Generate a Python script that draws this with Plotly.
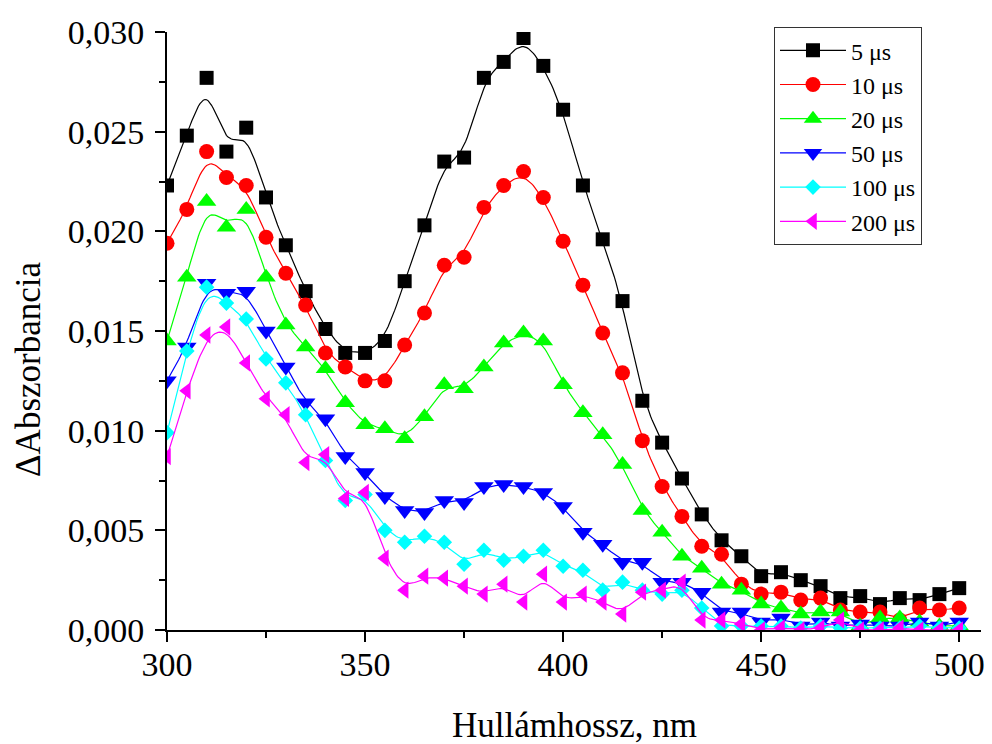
import numpy as np
import plotly.graph_objects as go

# Transient absorption spectra at different delay times
wavelength = list(range(300, 505, 5))

abs_5us = [0.0223, 0.0248, 0.0277, 0.0240, 0.0252, 0.0217, 0.0193, 0.0170, 0.0151, 0.0139,
           0.0139, 0.0145, 0.0175, 0.0203, 0.0235, 0.0237, 0.0277, 0.0285, 0.0297, 0.0283,
           0.0261, 0.0223, 0.0196, 0.0165, 0.0115, 0.0094, 0.0076, 0.0058, 0.0045, 0.0037,
           0.0027, 0.0029, 0.0025, 0.0022, 0.0016, 0.0017, 0.0013, 0.0016, 0.0015, 0.0018,
           0.0021]
abs_10us = [0.0194, 0.0211, 0.0240, 0.0227, 0.0223, 0.0197, 0.0179, 0.0163, 0.0139, 0.0132,
            0.0125, 0.0125, 0.0143, 0.0159, 0.0183, 0.0187, 0.0212, 0.0223, 0.0230, 0.0217,
            0.0195, 0.0173, 0.0149, 0.0129, 0.0095, 0.0072, 0.0057, 0.0042, 0.0038, 0.0023,
            0.0018, 0.0019, 0.0015, 0.0016, 0.0010, 0.0009, 0.0009, 0.0005, 0.0011, 0.0010,
            0.0011]
abs_20us = [0.0145, 0.0177, 0.0215, 0.0202, 0.0211, 0.0177, 0.0153, 0.0142, 0.0131, 0.0114,
            0.0103, 0.0101, 0.0096, 0.0107, 0.0123, 0.0121, 0.0132, 0.0144, 0.0149, 0.0145,
            0.0123, 0.0109, 0.0098, 0.0083, 0.0060, 0.0049, 0.0037, 0.0031, 0.0023, 0.0020,
            0.0013, 0.0011, 0.0008, 0.0009, 0.0009, 0.0002, 0.0006, 0.0006, 0.0004, 0.0002,
            0.0002]
abs_50us = [0.0125, 0.0142, 0.0174, 0.0169, 0.0170, 0.0150, 0.0132, 0.0114, 0.0106, 0.0087,
            0.0079, 0.0067, 0.0060, 0.0059, 0.0065, 0.0064, 0.0072, 0.0073, 0.0072, 0.0069,
            0.0062, 0.0049, 0.0043, 0.0034, 0.0034, 0.0024, 0.0024, 0.0019, 0.0009, 0.0009,
            0.0004, 0.0006, 0.0002, 0.0004, 0.0002, 0.0003, 0.0002, 0.0002, 0.0004, 0.0002,
            0.0004]
abs_100us = [0.0099, 0.0140, 0.0172, 0.0164, 0.0156, 0.0136, 0.0124, 0.0108, 0.0085, 0.0065,
             0.0068, 0.0050, 0.0044, 0.0047, 0.0044, 0.0033, 0.0040, 0.0035, 0.0037, 0.0040,
             0.0032, 0.0030, 0.0020, 0.0024, 0.0020, 0.0018, 0.0020, 0.0011, 0.0002, 0.0002,
             0.0002, 0.0002, 0.0001, 0.0002, 0.0001, 0.0001, 0.0001, 0.0001, 0.0002, 0.0001,
             0.0001]
abs_200us = [0.0087, 0.0120, 0.0148, 0.0152, 0.0134, 0.0116, 0.0108, 0.0084, 0.0088, 0.0066,
             0.0069, 0.0036, 0.0020, 0.0027, 0.0026, 0.0022, 0.0018, 0.0023, 0.0014, 0.0028,
             0.0014, 0.0018, 0.0014, 0.0008, 0.0019, 0.0020, 0.0024, 0.0005, 0.0005, 0.0003,
             0.0000, 0.0001, 0.0000, 0.0001, 0.0005, 0.0000, 0.0000, 0.0001, 0.0000, 0.0000,
             0.0000]

series_names = ["5 μs", "10 μs", "20 μs", "50 μs", "100 μs", "200 μs"]
series_values = [abs_5us, abs_10us, abs_20us, abs_50us, abs_100us, abs_200us]
colors = ["#000000", "#FF0000", "#00FF00", "#0000FF", "#00FFFF", "#FF00FF"]
symbols = ["square", "circle", "triangle-up", "triangle-down", "diamond", "triangle-left"]
sizes = [14, 15, 17, 17, 12, 15]


def bspline(xs, ys, steps=12):
    """Cubic B-spline through the data as control points (end points kept)."""
    P = np.column_stack([xs, ys]).astype(float)
    P = np.vstack([2 * P[0] - P[1], P, 2 * P[-1] - P[-2]])
    out = []
    t = np.linspace(0, 1, steps, endpoint=False)
    b0 = (1 - t) ** 3 / 6
    b1 = (3 * t ** 3 - 6 * t ** 2 + 4) / 6
    b2 = (-3 * t ** 3 + 3 * t ** 2 + 3 * t + 1) / 6
    b3 = t ** 3 / 6
    for i in range(1, len(P) - 2):
        seg = (np.outer(b0, P[i - 1]) + np.outer(b1, P[i]) +
               np.outer(b2, P[i + 1]) + np.outer(b3, P[i + 2]))
        out.append(seg)
    out.append(P[-2][None, :])
    c = np.vstack(out)
    return c[:, 0], c[:, 1]


fig = go.Figure()
for name, vals, col, sym, sz in zip(series_names, series_values, colors, symbols, sizes):
    cx, cy = bspline(wavelength, vals)
    fig.add_trace(go.Scatter(x=cx, y=cy, mode="lines", line=dict(color=col, width=1.2),
                             showlegend=False, hoverinfo="skip"))
    fig.add_trace(go.Scatter(x=wavelength, y=vals, mode="markers", name=name,
                             marker=dict(symbol=sym, size=sz, color=col, line=dict(width=0)),
                             showlegend=False))
    # legend entry: line with symbol
    fig.add_trace(go.Scatter(x=[None], y=[None], mode="lines+markers", name=name,
                             line=dict(color=col, width=1.2),
                             marker=dict(symbol=sym, size=sz, color=col, line=dict(width=0))))

axis_font = dict(family="Liberation Serif", size=34, color="black")

fig.update_layout(
    width=992, height=744,
    margin=dict(l=167, r=7, t=32, b=114),
    paper_bgcolor="white", plot_bgcolor="white",
    separators=", ",
    font=dict(family="Liberation Serif", color="black"),
    showlegend=True,
    legend=dict(
        x=0.7457, y=1.008, xanchor="left", yanchor="top",
        bgcolor="white", bordercolor="#333333", borderwidth=1,
        font=dict(family="Liberation Serif", size=24, color="black"),
        itemwidth=66, tracegroupgap=0,
    ),
    xaxis=dict(
        range=[300, 505.5], tickmode="linear", tick0=300, dtick=50,
        showline=True, linecolor="black", linewidth=2,
        ticks="outside", ticklen=10, tickwidth=2, tickcolor="black",
        minor=dict(ticks="outside", ticklen=6, tickwidth=2, tickcolor="black", dtick=25),
        showgrid=False, zeroline=False, tickfont=axis_font, ticklabelstandoff=-7,
    ),
    yaxis=dict(
        range=[0, 0.030], tickmode="linear", tick0=0, dtick=0.005, tickformat=".3f",
        showline=True, linecolor="black", linewidth=2,
        ticks="outside", ticklen=10, tickwidth=2, tickcolor="black",
        minor=dict(ticks="outside", ticklen=6, tickwidth=2, tickcolor="black", dtick=0.0025),
        showgrid=False, zeroline=False, tickfont=axis_font, ticklabelstandoff=4,
    ),
    annotations=[
        dict(text="Hullámhossz, nm", xref="paper", yref="paper", x=0.5, y=-0.16,
             xanchor="center", yanchor="middle", showarrow=False,
             font=dict(family="Liberation Serif", size=35, color="black")),
        dict(text="ΔAbszorbancia", xref="paper", yref="paper", x=-0.170, y=0.436,
             xanchor="center", yanchor="middle", textangle=-90, showarrow=False,
             font=dict(family="Liberation Serif", size=35, color="black")),
    ],
)

fig.write_html("out.html")
